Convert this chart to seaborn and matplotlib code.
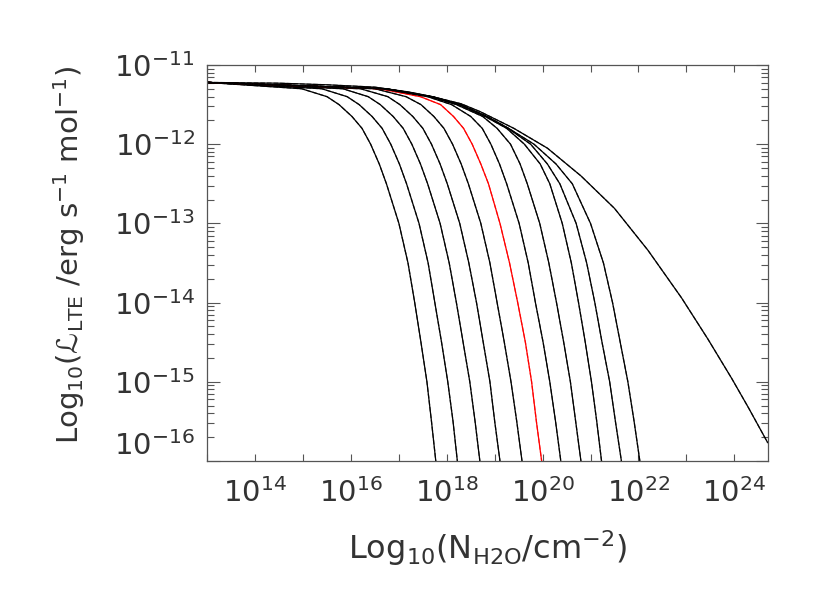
import numpy as np
import matplotlib
matplotlib.use('Agg')
import matplotlib.pyplot as plt
import matplotlib.ticker as mticker
import seaborn as sns
import pandas as pd

sns.set_style('ticks')
plt.rcParams['font.family'] = ['DejaVu Sans']
plt.rcParams['mathtext.default'] = 'regular'
plt.rc('font', size=21)
plt.rc('lines', linewidth=0.9)

levels = [-11.3, -11.4, -11.5, -11.65, -11.8, -12.0, -12.25, -12.5,
          -13.0, -13.5, -14.0, -14.5, -15.0, -15.5, -16.0]
start_logN = 13.0
plateau_logL = -11.22

# log10(N) where each curve crosses the levels above (left to right)
c01 = [14.97, 15.50, 15.75, 16.02, 16.23, 16.41, 16.59, 16.74, 17.00, 17.19, 17.33, 17.46, 17.585, 17.68, 17.77]
c02 = [15.39, 15.92, 16.17, 16.44, 16.65, 16.83, 17.01, 17.16, 17.42, 17.61, 17.75, 17.89, 18.02, 18.13, 18.22]
c03 = [15.83, 16.36, 16.61, 16.88, 17.09, 17.27, 17.45, 17.60, 17.86, 18.05, 18.20, 18.34, 18.48, 18.59, 18.69]
c04 = [16.20, 16.77, 17.02, 17.29, 17.50, 17.68, 17.86, 18.01, 18.27, 18.46, 18.62, 18.76, 18.90, 19.00, 19.11]
c05 = [16.50, 17.15, 17.46, 17.73, 17.94, 18.12, 18.30, 18.45, 18.71, 18.90, 19.05, 19.20, 19.34, 19.46, 19.57]
c06 = [16.60, 17.45, 17.87, 18.14, 18.35, 18.53, 18.71, 18.87, 19.11, 19.31, 19.48, 19.64, 19.77, 19.87, 19.98]
c07 = [16.65, 17.60, 18.10, 18.50, 18.74, 18.92, 19.10, 19.25, 19.51, 19.70, 19.85, 20.01, 20.15, 20.27, 20.38]
c08 = [16.70, 17.65, 18.20, 18.75, 19.05, 19.33, 19.53, 19.68, 19.94, 20.13, 20.29, 20.44, 20.58, 20.69, 20.80]
c09 = [16.72, 17.68, 18.25, 18.80, 19.25, 19.62, 19.95, 20.15, 20.41, 20.60, 20.75, 20.89, 21.02, 21.13, 21.23]
c10 = [16.73, 17.69, 18.28, 18.83, 19.28, 19.75, 20.10, 20.36, 20.70, 20.92, 21.09, 21.24, 21.40, 21.52, 21.645]
c11 = [16.73, 17.70, 18.29, 18.84, 19.29, 19.82, 20.28, 20.62, 21.00, 21.27, 21.46, 21.62, 21.78, 21.91, 22.03]
curves = {'c01': c01, 'c02': c02, 'c03': c03, 'c04': c04, 'c05': c05, 'c06': c06,
          'c07': c07, 'c08': c08, 'c09': c09, 'c10': c10, 'c11': c11}

# the outer (slowly falling) curve
env_logN = [13.0, 14.5, 15.5, 16.5, 17.2, 17.7, 18.3, 18.7, 19.4, 20.1, 20.8,
            21.5, 22.2, 22.9, 23.45, 23.95, 24.3, 24.7]
env_logL = [-11.22, -11.23, -11.25, -11.28, -11.34, -11.40, -11.49, -11.59, -11.80,
            -12.05, -12.40, -12.81, -13.34, -13.94, -14.46, -14.96, -15.33, -15.77]

rows = []
for name, xs in curves.items():
    rows.append((name, start_logN, plateau_logL))
    for lx, ly in zip(xs, levels):
        rows.append((name, lx, ly))
for lx, ly in zip(env_logN, env_logL):
    rows.append(('env', lx, ly))
df = pd.DataFrame(rows, columns=['curve', 'logN', 'logL'])
df['N'] = 10.0 ** df['logN']
df['L'] = 10.0 ** df['logL']

palette = {name: 'black' for name in df['curve'].unique()}
palette['c06'] = 'red'

fig = plt.figure(figsize=(8.3, 5.93), dpi=100)
ax = fig.add_axes([207.3 / 830, 1 - 461 / 593, 560.4 / 830, 396 / 593])
ax.set_xscale('log')
ax.set_yscale('log')

sns.lineplot(data=df, x='N', y='L', hue='curve', palette=palette, estimator=None,
             sort=False, legend=False, ax=ax, linewidth=0.9)
sns.lineplot(data=df, x='N', y='L', hue='curve', palette=palette, estimator=None,
             sort=False, legend=False, ax=ax, linewidth=0.9, linestyle='--', alpha=0.7)

ax.set_xlim(1e13, 5e24)
ax.set_ylim(1e-16, 1e-11)

xdec = list(range(13, 25))
ax.set_xticks([10.0 ** k for k in xdec],
              ['$10^{%d}$' % k if k % 2 == 0 else '' for k in xdec])
ax.xaxis.set_minor_locator(mticker.NullLocator())
ydec = list(range(-16, -10))
ax.set_yticks([10.0 ** k for k in ydec], ['$10^{%d}$' % k for k in ydec])
ax.yaxis.set_minor_locator(mticker.LogLocator(base=10, subs=np.arange(2, 10)))
ax.yaxis.set_minor_formatter(mticker.NullFormatter())

ax.tick_params(axis='both', which='both', direction='in', top=True, right=True,
               color='#555555', width=0.8, labelcolor='#333333')
ax.tick_params(axis='x', which='major', length=5, pad=12)
ax.tick_params(axis='y', which='major', length=9, pad=9)
ax.tick_params(axis='y', which='minor', length=5)
for sp in ax.spines.values():
    sp.set_color('#555555')
    sp.set_linewidth(0.9)

ax.set_xlabel('Log$_{10}$(N$_{H2O}$/cm$^{-2}$)', color='#333333', va='top', fontsize=23)
ax.set_ylabel('Log$_{10}$(ℒ$_{LTE}$ /erg s$^{-1}$ mol$^{-1}$)', color='#333333', fontsize=21)
ax.xaxis.set_label_coords(0.5, -0.17)
ax.yaxis.set_label_coords(-0.215, 0.52)

fig.canvas.draw()
for lab in ax.get_yticklabels():
    if '-16' in lab.get_text():
        lab.set_verticalalignment('bottom')

fig.savefig('out.png', dpi=100)
